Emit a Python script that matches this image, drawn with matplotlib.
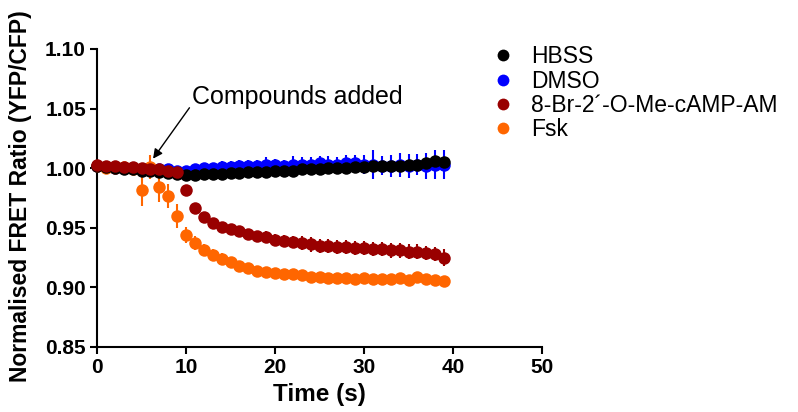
import matplotlib
matplotlib.use("Agg")
import matplotlib.pyplot as plt
import numpy as np

plt.rcParams['font.family'] = ['Liberation Sans', 'DejaVu Sans']

# tiempo (s)
time = list(range(40))

hbss = [1.002, 1.001, 1.000, 0.999, 0.999, 0.998, 0.998, 0.997, 0.996, 0.995,
        0.994, 0.994, 0.995, 0.995, 0.995, 0.996, 0.996, 0.997, 0.997, 0.997,
        0.998, 0.998, 0.998, 0.999, 0.999, 0.999, 1.000, 1.000, 1.000, 1.001,
        1.001, 1.002, 1.002, 1.002, 1.002, 1.003, 1.003, 1.004, 1.006, 1.005]
hbss_err = [0.001, 0.001, 0.001, 0.002, 0.002, 0.002, 0.002, 0.002, 0.003, 0.005,
            0.004, 0.003, 0.003, 0.003, 0.003, 0.003, 0.003, 0.003, 0.003, 0.003,
            0.003, 0.003, 0.003, 0.003, 0.003, 0.003, 0.003, 0.003, 0.003, 0.003,
            0.003, 0.003, 0.003, 0.003, 0.003, 0.003, 0.003, 0.003, 0.004, 0.004]

dmso = [1.002, 1.001, 1.000, 1.000, 1.000, 0.999, 0.999, 0.999, 0.999, 0.998,
        0.998, 0.999, 1.000, 1.000, 1.001, 1.001, 1.002, 1.002, 1.002, 1.003,
        1.003, 1.002, 1.003, 1.003, 1.003, 1.004, 1.003, 1.003, 1.004, 1.004,
        1.003, 1.003, 1.002, 1.002, 1.003, 1.002, 1.003, 1.002, 1.003, 1.003]
dmso_err = [0.001, 0.001, 0.001, 0.002, 0.002, 0.002, 0.002, 0.003, 0.003, 0.003,
            0.004, 0.004, 0.004, 0.004, 0.005, 0.005, 0.005, 0.005, 0.005, 0.006,
            0.005, 0.005, 0.007, 0.006, 0.006, 0.006, 0.007, 0.006, 0.007, 0.007,
            0.008, 0.012, 0.008, 0.009, 0.010, 0.010, 0.009, 0.011, 0.012, 0.012]

brcamp = [1.003, 1.002, 1.002, 1.001, 1.001, 1.000, 0.999, 0.999, 0.998, 0.997,
          0.982, 0.967, 0.959, 0.954, 0.951, 0.949, 0.947, 0.945, 0.943, 0.942,
          0.940, 0.939, 0.938, 0.937, 0.936, 0.935, 0.935, 0.934, 0.934, 0.933,
          0.933, 0.932, 0.932, 0.931, 0.931, 0.930, 0.930, 0.929, 0.928, 0.925]
brcamp_err = [0.001, 0.001, 0.001, 0.001, 0.002, 0.002, 0.002, 0.002, 0.002, 0.002,
              0.004, 0.003, 0.003, 0.003, 0.003, 0.004, 0.004, 0.004, 0.004, 0.005,
              0.005, 0.005, 0.005, 0.006, 0.006, 0.006, 0.006, 0.006, 0.006, 0.006,
              0.006, 0.006, 0.006, 0.006, 0.006, 0.006, 0.006, 0.006, 0.006, 0.007]

fsk = [1.002, 1.000, 1.000, 1.001, 0.999, 0.982, 1.001, 0.984, 0.977, 0.960,
       0.944, 0.937, 0.931, 0.927, 0.924, 0.921, 0.918, 0.916, 0.914, 0.913,
       0.912, 0.911, 0.911, 0.910, 0.909, 0.909, 0.908, 0.908, 0.908, 0.907,
       0.908, 0.907, 0.907, 0.907, 0.908, 0.906, 0.909, 0.907, 0.906, 0.905]
fsk_err = [0.002, 0.001, 0.001, 0.002, 0.002, 0.014, 0.010, 0.012, 0.010, 0.010,
           0.007, 0.006, 0.005, 0.005, 0.005, 0.004, 0.004, 0.003, 0.003, 0.003,
           0.002, 0.002, 0.002, 0.002, 0.002, 0.002, 0.002, 0.002, 0.002, 0.002,
           0.002, 0.002, 0.002, 0.002, 0.002, 0.002, 0.002, 0.002, 0.002, 0.002]

fig = plt.figure(figsize=(7.98, 4.12), dpi=100)
ax = fig.add_axes([97 / 798, 65 / 412, 445 / 798, 298 / 412])

# orden de dibujo: azul abajo, luego naranja, negro y rojo arriba
series = [
    (dmso, dmso_err, "#0000FF", "DMSO", 2),
    (fsk, fsk_err, "#FF6600", "Fsk", 3),
    (hbss, hbss_err, "#000000", "HBSS", 4),
    (brcamp, brcamp_err, "#990000", "8-Br-2\u00b4-O-Me-cAMP-AM", 5),
]
handles = {}
for vals, err, col, lab, z in series:
    h = ax.errorbar(time, vals, yerr=err, fmt="o", color=col, ms=9, mew=0,
                    ecolor=col, elinewidth=1.5, capsize=7, capthick=1.5,
                    label=lab, zorder=z, clip_on=False)
    handles[lab] = h

order = ["HBSS", "DMSO", "8-Br-2\u00b4-O-Me-cAMP-AM", "Fsk"]
leg_h = [plt.Line2D([], [], ls="", marker="o", ms=8.5, mew=0,
                    color=handles[k][0].get_color()) for k in order]
fig.legend(leg_h, order, loc="upper left", bbox_to_anchor=(478 / 798, 1 - 34 / 412),
           frameon=False, fontsize=16.5, handletextpad=0.6, labelspacing=0.05,
           borderpad=0, handlelength=1.2)

ax.set_xlim(0, 50)
ax.set_ylim(0.85, 1.10)
ax.set_xticks([0, 10, 20, 30, 40, 50])
ax.set_yticks([0.85, 0.90, 0.95, 1.00, 1.05, 1.10])
ax.set_yticklabels(["0.85", "0.90", "0.95", "1.00", "1.05", "1.10"])
ax.spines["top"].set_visible(False)
ax.spines["right"].set_visible(False)
ax.spines["left"].set_linewidth(1.5)
ax.spines["bottom"].set_linewidth(1.5)
ax.tick_params(direction="out", length=5, width=1.5, labelsize=15, pad=3)
for t in ax.get_xticklabels() + ax.get_yticklabels():
    t.set_fontweight("bold")

ax.set_xlabel("Time (s)", fontsize=17.5, fontweight="bold", labelpad=4)
ax.set_ylabel("Normalised FRET Ratio (YFP/CFP)", fontsize=16.5, fontweight="bold")
ax.yaxis.set_label_coords(-0.146, 0.507)

ax.annotate("Compounds added", xy=(6.3, 1.008), xytext=(10.7, 1.060),
            fontsize=18, va="center", ha="left",
            arrowprops=dict(arrowstyle="-|>", color="black", lw=1,
                            shrinkA=0, shrinkB=0, mutation_scale=14,
                            relpos=(0, 0.2)))
fig.savefig("out.png", dpi=100)
